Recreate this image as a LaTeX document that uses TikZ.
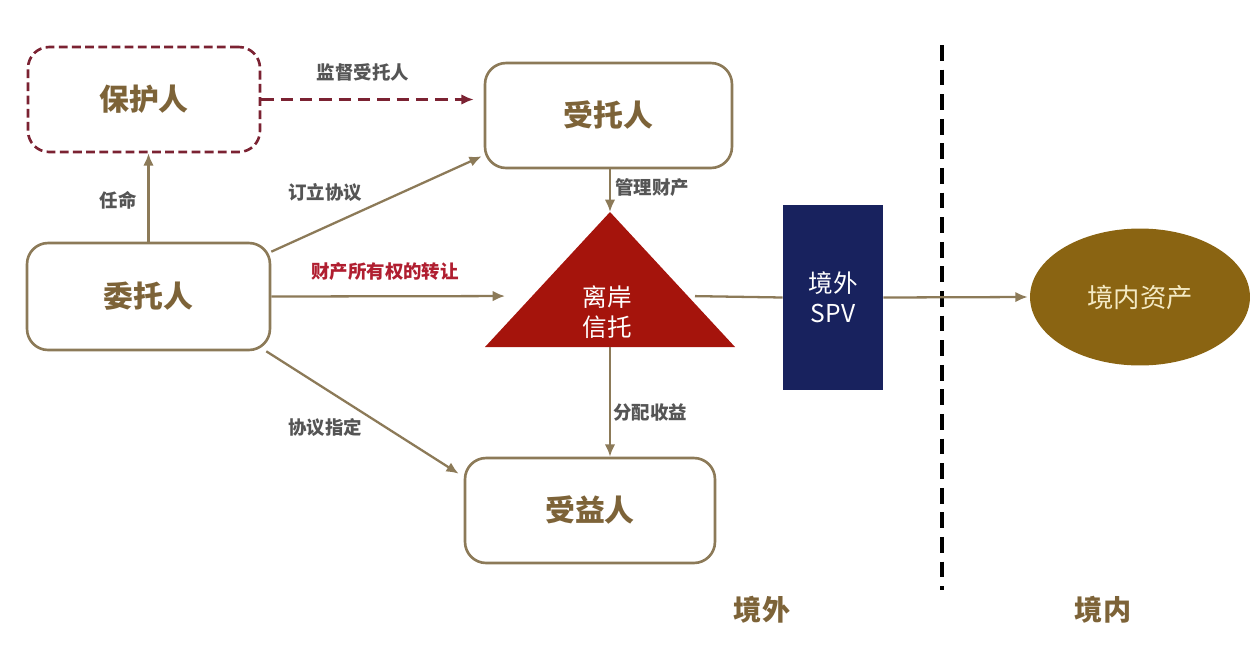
\documentclass[tikz,border=0pt]{standalone}
\usepackage{fontspec}
\setmainfont{Noto Sans CJK SC}
\usetikzlibrary{arrows.meta,calc,shapes.geometric}

\definecolor{linebrown}{HTML}{8C7A58}
\definecolor{textbrown}{HTML}{7D6338}
\definecolor{guardred}{HTML}{7B2232}
\definecolor{transred}{HTML}{B01E30}
\definecolor{trustred}{HTML}{A5140C}
\definecolor{spvblue}{HTML}{18225E}
\definecolor{assetbrown}{HTML}{8A6412}
\definecolor{assettext}{HTML}{F4EAC4}
\definecolor{labelgray}{HTML}{555555}

\begin{document}
\begin{tikzpicture}[x=0.02cm, y=-0.02cm,
		party/.style={draw=linebrown, line width=1.5pt, rounded corners=12pt, fill=white,
			text=textbrown, font=\fontsize{17}{20}\selectfont\bfseries},
		flow/.style={linebrown, line width=1.3pt, -{Latex[length=7pt,width=6pt]}},
		tag/.style={text=labelgray, font=\fontsize{10.5}{12}\selectfont\bfseries}]
		\useasboundingbox (0,0) rectangle (1255,660);

		% parties
		\node[party, draw=guardred, dashed, dash pattern=on 5pt off 2.5pt,
			minimum width=4.64cm, minimum height=2.1cm] (protector) at (144,99.5) {保护人};
		\node[party, minimum width=4.94cm, minimum height=2.1cm] (trustee) at (608.5,115.5) {受托人};
		\node[party, minimum width=4.86cm, minimum height=2.14cm] (settlor) at (148.5,296.5) {委托人};
		\node[party, minimum width=5cm, minimum height=2.1cm] (benef) at (590,510.5) {受益人};

		% offshore trust
		\coordinate (apex) at (610,212);
		\coordinate (baseL) at (485,347);
		\coordinate (baseR) at (735,347);
		\coordinate (baseM) at (610,347);
		\coordinate (triL) at (532,296);
		\coordinate (triR) at (688,296);
		\fill[trustred] (apex) -- (baseR) -- (baseL) -- cycle;
		\node[text=white, align=center, font=\fontsize{14}{17}\selectfont] (trust) at (607,312) {离岸\\信托};

		\node[fill=spvblue, text=white, align=center, minimum width=2cm, minimum height=3.7cm,
			font=\fontsize{14}{17}\selectfont] (spv) at (833,297.5) {境外\\SPV};
		\node[ellipse, fill=assetbrown, text=assettext, minimum width=4.4cm, minimum height=2.74cm,
			font=\fontsize{15}{18}\selectfont] (asset) at (1140,297) {境内资产};

		% border line
		\coordinate (bordertop) at (942,45);
		\coordinate (borderbot) at (942,590);
		\draw[line width=1.8pt, dash pattern=on 9pt off 5pt] (bordertop) -- (borderbot);
		\node[text=textbrown, font=\fontsize{16}{19}\selectfont\bfseries] (offshore) at (762,610) {境外};
		\node[text=textbrown, font=\fontsize{16}{19}\selectfont\bfseries] (onshore) at (1103,610) {境内};

		% relations
		\draw[flow, guardred, dash pattern=on 7pt off 4pt, shorten >=0.2cm] (protector.east) -- (trustee.west |- protector.east);
		\node[tag] (supervise) at (363,72) {监督受托人};

		\draw[flow] (settlor.north) -- (settlor.north |- protector.south);
		\node[tag] (appoint) at (118,200) {任命};

		\draw[flow] ($(settlor.north east)+(0,10)$) -- ($(trustee.south west)+(-2,-13)$);
		\node[tag] (agree) at (325,192) {订立协议};

		\draw[flow, shorten >=0.54cm] (settlor.east) -- (triL);
		\node[tag, text=transred] (transfer) at (385,272) {财产所有权的转让};

		\draw[flow] ($(settlor.south east)+(-5,0)$) -- ($(benef.north west)+(-5,17)$);
		\node[tag] (designate) at (325,428) {协议指定};

		\draw[flow] (trustee.south -| apex) -- (apex);
		\node[tag] (manage) at (652,188) {管理财产};

		\draw[flow] (baseM) -- (benef.north -| baseM);
		\node[tag] (distribute) at (650,413) {分配收益};

		\draw[linebrown, line width=1.3pt, shorten <=0.14cm] (triR) -- (spv.west);
		\draw[flow, shorten >=0.04cm] (spv.east) -- (asset.west);
	\end{tikzpicture}
\end{document}
